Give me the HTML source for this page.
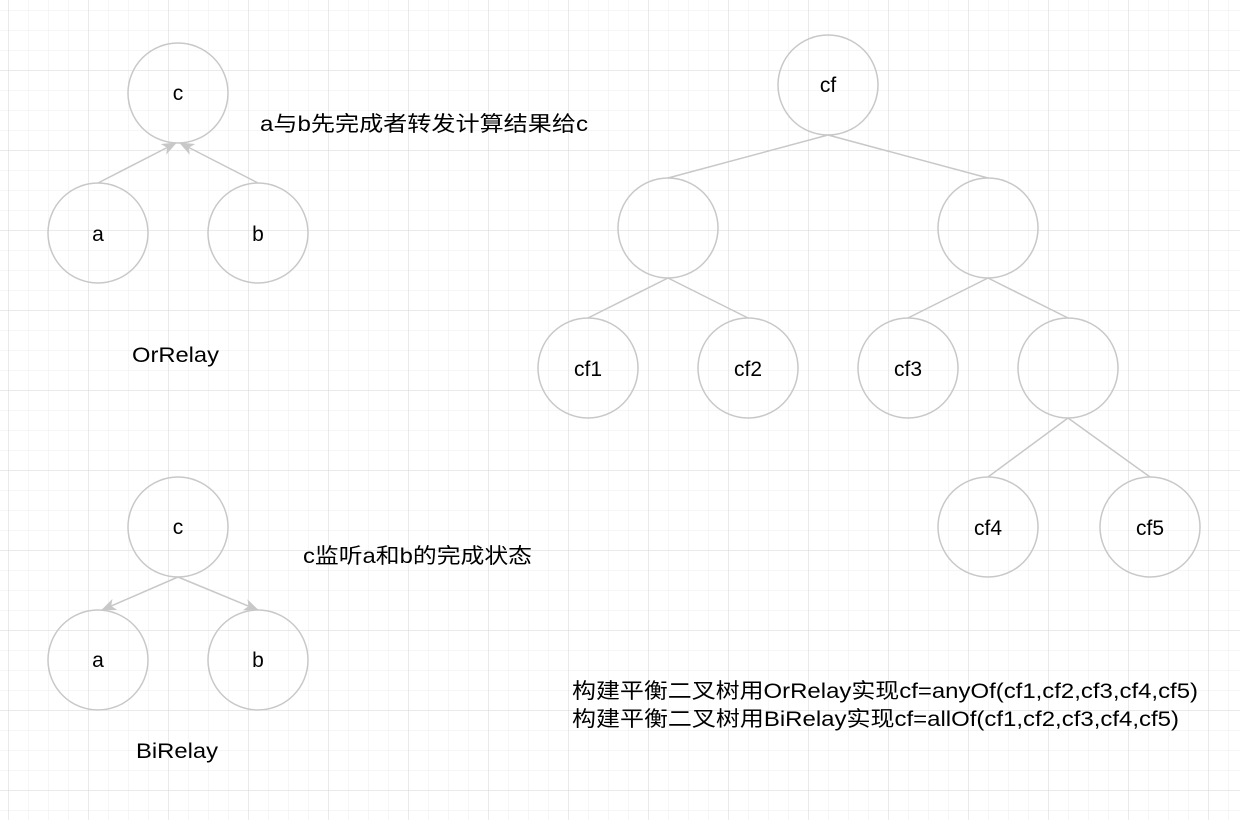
<!DOCTYPE html>
<html><head><meta charset="utf-8"><style>
body{margin:0;width:1240px;height:820px;overflow:hidden;background:#fff;}
svg text{font-family:"Liberation Sans","Noto Sans CJK SC",sans-serif;font-size:21px;fill:#000;}
</style></head><body>
<svg width="1240" height="820" xmlns="http://www.w3.org/2000/svg">
<defs>
<pattern id="mi" width="20" height="20" patternUnits="userSpaceOnUse" x="8" y="10">
<path d="M0 0H20M0 0V20" stroke="#ececec" stroke-width="1" fill="none"/></pattern>
<pattern id="ma" width="80" height="80" patternUnits="userSpaceOnUse" x="8" y="-10">
<path d="M0 0H80M0 0V80" stroke="#d6d6d6" stroke-width="1" fill="none"/></pattern>
<marker id="ar" markerWidth="16" markerHeight="14" refX="14" refY="7" orient="auto" markerUnits="userSpaceOnUse">
<path d="M0 1L15 7L0 13L4 7Z" fill="#c8c8c8"/></marker>
</defs>
<rect width="1240" height="820" fill="url(#mi)"/>
<rect width="1240" height="820" fill="url(#ma)"/>
<g stroke="#c8c8c8" stroke-width="1.5" fill="none">
<circle cx="178" cy="93" r="50"/><circle cx="98" cy="233" r="50"/><circle cx="258" cy="233" r="50"/>
<circle cx="178" cy="527" r="50"/><circle cx="98" cy="660" r="50"/><circle cx="258" cy="660" r="50"/>
<circle cx="828" cy="85" r="50"/><circle cx="668" cy="228" r="50"/><circle cx="988" cy="228" r="50"/>
<circle cx="588" cy="368" r="50"/><circle cx="748" cy="368" r="50"/><circle cx="908" cy="368" r="50"/><circle cx="1068" cy="368" r="50"/>
<circle cx="988" cy="527" r="50"/><circle cx="1150" cy="527" r="50"/>
<line x1="98" y1="183" x2="176" y2="143" marker-end="url(#ar)"/>
<line x1="258" y1="183" x2="180" y2="143" marker-end="url(#ar)"/>
<line x1="178" y1="577" x2="102" y2="610" marker-end="url(#ar)"/>
<line x1="178" y1="577" x2="258" y2="610" marker-end="url(#ar)"/>
<path d="M828 135L668 178M828 135L988 178M668 278L588 318M668 278L748 318M988 278L908 318M988 278L1068 318M1068 418L988 477M1068 418L1150 477"/>
</g>
<text x="178" y="100" text-anchor="middle">c</text>
<text x="98" y="241" text-anchor="middle">a</text>
<text x="258" y="241" text-anchor="middle">b</text>
<text x="178" y="534" text-anchor="middle">c</text>
<text x="98" y="667" text-anchor="middle">a</text>
<text x="258" y="667" text-anchor="middle">b</text>
<text x="828" y="92" text-anchor="middle">cf</text>
<text x="588" y="376" text-anchor="middle">cf1</text>
<text x="748" y="376" text-anchor="middle">cf2</text>
<text x="908" y="376" text-anchor="middle">cf3</text>
<text x="988" y="535" text-anchor="middle">cf4</text>
<text x="1150" y="535" text-anchor="middle">cf5</text>
<text x="260" y="131" textLength="328" lengthAdjust="spacingAndGlyphs">a与b先完成者转发计算结果给c</text>
<text x="303" y="563" textLength="229" lengthAdjust="spacingAndGlyphs">c监听a和b的完成状态</text>
<text x="132" y="362" textLength="87" lengthAdjust="spacingAndGlyphs">OrRelay</text>
<text x="136" y="758" textLength="82" lengthAdjust="spacingAndGlyphs">BiRelay</text>
<text x="572" y="698" textLength="626" lengthAdjust="spacingAndGlyphs">构建平衡二叉树用OrRelay实现cf=anyOf(cf1,cf2,cf3,cf4,cf5)</text>
<text x="572" y="726" textLength="607" lengthAdjust="spacingAndGlyphs">构建平衡二叉树用BiRelay实现cf=allOf(cf1,cf2,cf3,cf4,cf5)</text>
</svg>
</body></html>
